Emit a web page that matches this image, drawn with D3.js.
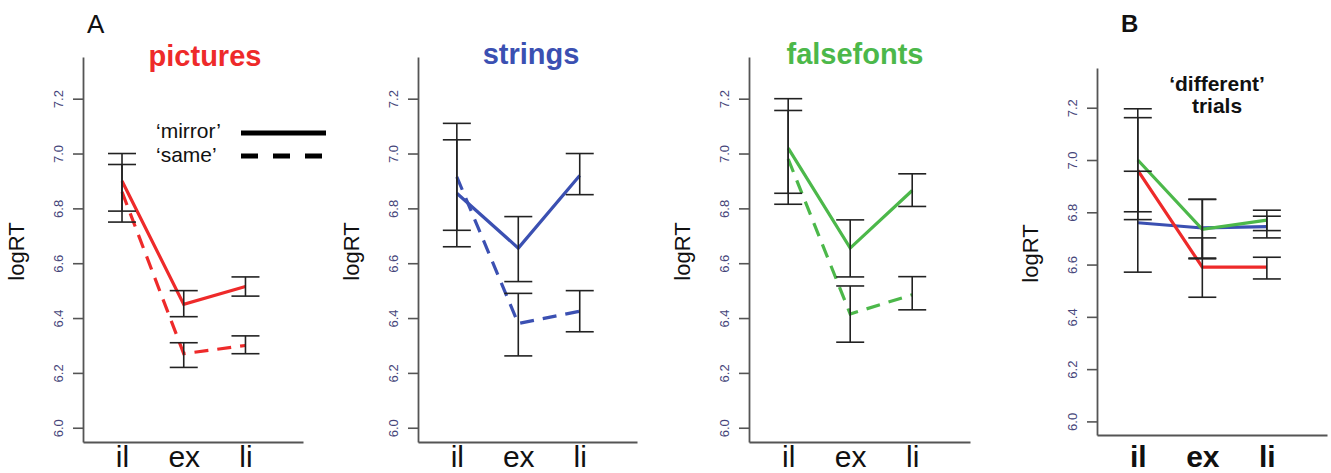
<!DOCTYPE html>
<html>
<head>
<meta charset="utf-8">
<script src="https://cdn.jsdelivr.net/npm/d3@7"></script>
<style>
  body { margin: 0; background: #fff; }
  svg { display: block; font-family: "Liberation Sans", Arial, sans-serif; }
</style>
</head>
<body>
<svg id="chart" width="1331" height="473"></svg>
<script>
// Categories and axis ticks
const categories = ['il', 'ex', 'li'];
const yTicks = [6.0, 6.2, 6.4, 6.6, 6.8, 7.0, 7.2];
const yLimits = [6.0, 7.3];
const xLimits = [0.5, 3.8];

// Panel A: pictures
const picturesMirror = [6.90, 6.45, 6.515];
const picturesMirrorLo = [6.79, 6.405, 6.48];
const picturesMirrorHi = [7.00, 6.50, 6.55];
const picturesSame = [6.86, 6.27, 6.30];
const picturesSameLo = [6.75, 6.22, 6.27];
const picturesSameHi = [6.96, 6.31, 6.335];

// Panel A: strings
const stringsMirror = [6.855, 6.655, 6.92];
const stringsMirrorLo = [6.66, 6.533, 6.85];
const stringsMirrorHi = [7.05, 6.77, 7.00];
const stringsSame = [6.915, 6.38, 6.425];
const stringsSameLo = [6.72, 6.262, 6.35];
const stringsSameHi = [7.11, 6.49, 6.50];

// Panel A: falsefonts
const falsefontsMirror = [7.02, 6.655, 6.865];
const falsefontsMirrorLo = [6.855, 6.55, 6.807];
const falsefontsMirrorHi = [7.20, 6.758, 6.926];
const falsefontsSame = [6.98, 6.415, 6.485];
const falsefontsSameLo = [6.815, 6.312, 6.43];
const falsefontsSameHi = [7.157, 6.517, 6.551];

// Panel B: 'different' trials
const differentPictures = [6.96, 6.59, 6.59];
const differentPicturesLo = [6.772, 6.475, 6.545];
const differentPicturesHi = [7.162, 6.702, 6.628];
const differentStrings = [6.76, 6.74, 6.745];
const differentStringsLo = [6.571, 6.625, 6.702];
const differentStringsHi = [6.957, 6.85, 6.785];
const differentFalsefonts = [7.0, 6.735, 6.77];
const differentFalsefontsLo = [6.802, 6.622, 6.73];
const differentFalsefontsHi = [7.196, 6.849, 6.808];

// Colours
const RED = '#ee2a2a';
const BLUE = '#3b50b2';
const GREEN = '#4cb84a';
const AXIS = '#555';
const BAR = '#222';
const TICKTEXT = '#45457a';

// Panel layout
const panels = [
    {
        left: 83, right: 303, top: 57, bottom: 442, boldX: false,
        title: 'pictures', titleColor: RED, titleX: 205, titleY: 66,
        series: [
            { values: picturesMirror, lo: picturesMirrorLo, hi: picturesMirrorHi, color: RED, dashed: false },
            { values: picturesSame, lo: picturesSameLo, hi: picturesSameHi, color: RED, dashed: true }
        ]
    },
    {
        left: 418, right: 637, top: 57, bottom: 442, boldX: false,
        title: 'strings', titleColor: BLUE, titleX: 531, titleY: 64,
        series: [
            { values: stringsMirror, lo: stringsMirrorLo, hi: stringsMirrorHi, color: BLUE, dashed: false },
            { values: stringsSame, lo: stringsSameLo, hi: stringsSameHi, color: BLUE, dashed: true }
        ]
    },
    {
        left: 749, right: 970, top: 57, bottom: 442, boldX: false,
        title: 'falsefonts', titleColor: GREEN, titleX: 855, titleY: 64,
        series: [
            { values: falsefontsMirror, lo: falsefontsMirrorLo, hi: falsefontsMirrorHi, color: GREEN, dashed: false },
            { values: falsefontsSame, lo: falsefontsSameLo, hi: falsefontsSameHi, color: GREEN, dashed: true }
        ]
    },
    {
        left: 1097, right: 1327, top: 68, bottom: 435, boldX: true,
        title: null,
        series: [
            { values: differentStrings, lo: differentStringsLo, hi: differentStringsHi, color: BLUE, dashed: false },
            { values: differentPictures, lo: differentPicturesLo, hi: differentPicturesHi, color: RED, dashed: false },
            { values: differentFalsefonts, lo: differentFalsefontsLo, hi: differentFalsefontsHi, color: GREEN, dashed: false }
        ]
    }
];

const svg = d3.select('#chart');

// R-style 4% range expansion
function expand(lim) {
    const r = lim[1] - lim[0];
    return [lim[0] - 0.04 * r, lim[1] + 0.04 * r];
}

function drawPanel(p) {
    const x = d3.scaleLinear().domain(expand(xLimits)).range([p.left, p.right]);
    const y = d3.scaleLinear().domain(expand(yLimits)).range([p.bottom, p.top]);
    const g = svg.append('g');

    // Y axis
    const yAxis = g.append('g')
        .attr('transform', `translate(${p.left},0)`)
        .call(d3.axisLeft(y).tickValues(yTicks).tickSize(10).tickSizeOuter(0).tickFormat(d3.format('.1f')));
    yAxis.select('.domain').attr('stroke', AXIS).attr('stroke-width', 1.8);
    yAxis.selectAll('.tick line').attr('stroke', AXIS).attr('stroke-width', 1.6);
    yAxis.selectAll('.tick text')
        .attr('x', null).attr('dy', null)
        .attr('transform', 'translate(-20,0) rotate(-90)')
        .attr('text-anchor', 'middle')
        .attr('fill', TICKTEXT)
        .style('font-size', '13px')
        .style('font-family', '"Liberation Sans", Arial, sans-serif');

    // X axis
    const xAxis = g.append('g')
        .attr('transform', `translate(0,${p.bottom})`)
        .call(d3.axisBottom(x).tickValues([1, 2, 3]).tickSize(0).tickSizeOuter(0).tickFormat(d => categories[d - 1]));
    xAxis.select('.domain').attr('stroke', AXIS).attr('stroke-width', 1.8);
    xAxis.selectAll('.tick text')
        .attr('y', 467 - p.bottom).attr('dy', null)
        .attr('fill', '#111')
        .style('font-size', '30px')
        .style('font-weight', p.boldX ? 'bold' : 'normal')
        .style('font-family', '"Liberation Sans", Arial, sans-serif');

    // Y axis title
    g.append('text')
        .attr('transform', `translate(${p.left - 59},${(p.top + p.bottom) / 2 + 2}) rotate(-90)`)
        .attr('text-anchor', 'middle')
        .attr('fill', '#111')
        .style('font-size', '22px')
        .text('logRT');

    // Panel title
    if (p.title) {
        g.append('text')
            .attr('x', p.titleX).attr('y', p.titleY)
            .attr('text-anchor', 'middle')
            .attr('fill', p.titleColor)
            .style('font-size', '29px')
            .style('font-weight', 'bold')
            .text(p.title);
    }

    // Mean lines
    const line = d3.line().x((d, i) => x(i + 1)).y(d => y(d));
    p.series.forEach(s => {
        g.append('path')
            .datum(s.values)
            .attr('d', line)
            .attr('fill', 'none')
            .attr('stroke', s.color)
            .attr('stroke-width', 3.2)
            .attr('stroke-dasharray', s.dashed ? '14,9' : null);
    });

    // Error bars
    const cap = 14;
    p.series.forEach(s => {
        s.values.forEach((v, i) => {
            const cx = x(i + 1);
            const eb = g.append('g').attr('stroke', BAR).attr('stroke-width', 1.6);
            eb.append('line').attr('x1', cx).attr('x2', cx).attr('y1', y(s.lo[i])).attr('y2', y(s.hi[i]));
            eb.append('line').attr('x1', cx - cap).attr('x2', cx + cap).attr('y1', y(s.lo[i])).attr('y2', y(s.lo[i]));
            eb.append('line').attr('x1', cx - cap).attr('x2', cx + cap).attr('y1', y(s.hi[i])).attr('y2', y(s.hi[i]));
        });
    });
}

panels.forEach(drawPanel);

// Panel letters
svg.append('text').attr('x', 87).attr('y', 33)
    .style('font-size', '26px').attr('fill', '#111').text('A');
svg.append('text').attr('x', 1121).attr('y', 32)
    .style('font-size', '24px').style('font-weight', 'bold').attr('fill', '#111').text('B');

// Legend in the pictures panel
const legend = svg.append('g');
legend.append('text').attr('x', 156).attr('y', 138)
    .style('font-size', '21px').attr('fill', '#111').text('\u2018mirror\u2019');
legend.append('text').attr('x', 156).attr('y', 162)
    .style('font-size', '21px').attr('fill', '#111').text('\u2018same\u2019');
legend.append('line').attr('x1', 241).attr('x2', 326).attr('y1', 133).attr('y2', 133)
    .attr('stroke', '#000').attr('stroke-width', 5);
legend.append('line').attr('x1', 241).attr('x2', 326).attr('y1', 156).attr('y2', 156)
    .attr('stroke', '#000').attr('stroke-width', 5).attr('stroke-dasharray', '17,15');

// Panel B caption
svg.append('text').attr('x', 1217).attr('y', 91).attr('text-anchor', 'middle')
    .style('font-size', '21px').style('font-weight', 'bold').attr('fill', '#111').text('\u2018different\u2019');
svg.append('text').attr('x', 1217).attr('y', 113).attr('text-anchor', 'middle')
    .style('font-size', '21px').style('font-weight', 'bold').attr('fill', '#111').text('trials');
</script>
</body>
</html>
